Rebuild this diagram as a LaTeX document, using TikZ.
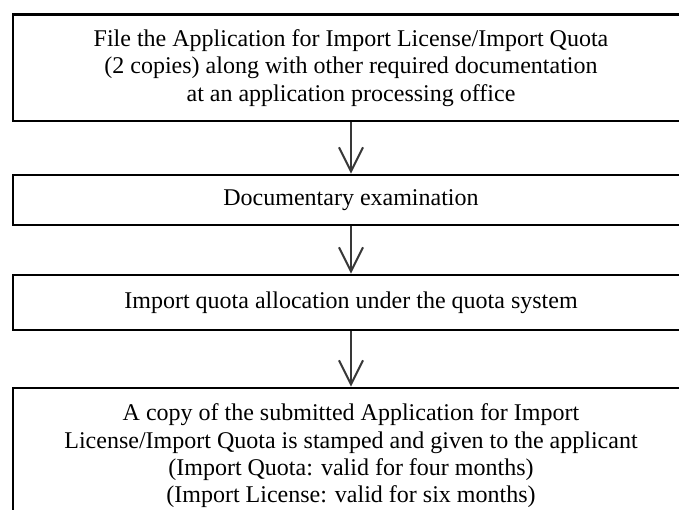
\documentclass[tikz,border=0pt]{standalone}
\usepackage{fontspec}
\setmainfont{Liberation Serif}
\usetikzlibrary{arrows.meta}
\begin{document}
\begin{tikzpicture}[x=1pt,y=-1pt,
  stepbox/.style={draw=black, line width=2.8pt, minimum width=676pt,
    inner sep=0pt, align=center, font=\fontsize{24}{27.4}\selectfont},
  flow/.style={draw=black!78, line width=2pt,
    -{Straight Barb[length=24pt,width=24pt]}}]
\clip (0,0) rectangle (679,510);
\fill[white] (0,0) rectangle (679,510);

\node[stepbox, minimum height=106.5pt] (apply) at (351,67.75)
  {File the Application for Import License/Import Quota\\
   (2 copies) along with other required documentation\\
   at an application processing office};
\node[stepbox, minimum height=50pt] (exam) at (351,200)
  {Documentary examination};
\node[stepbox, minimum height=55pt] (quota) at (351,302.5)
  {Import quota allocation under the quota system};
\node[stepbox, minimum height=136pt] (stamp) at (351,456)
  {A copy of the submitted Application for Import\\
   License/Import Quota is stamped and given to the applicant\\
   (Import Quota: valid for four months)\\
   (Import License: valid for six months)};

\draw[flow] (apply) -- (exam);
\draw[flow] (exam) -- (quota);
\draw[flow] (quota) -- (stamp);
\end{tikzpicture}
\end{document}
